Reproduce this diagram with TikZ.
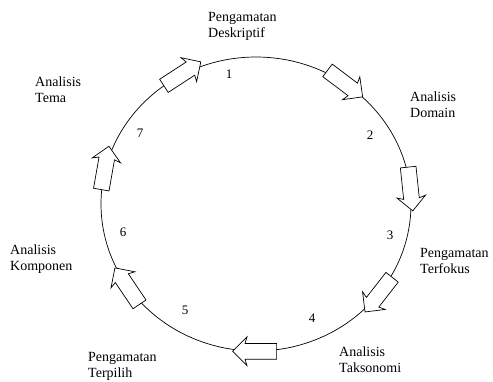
\documentclass[tikz,border=0pt]{standalone}
\usepackage{fontspec}
\setmainfont{Liberation Serif}
\usetikzlibrary{shapes.geometric, shapes.arrows, positioning, calc}

\begin{document}
\begin{tikzpicture}[x=1pt,y=1pt,
		flow/.style={single arrow,draw,fill=white,inner xsep=0pt,inner ysep=7.5pt,minimum height=44pt,single arrow head extend=6.5pt,single arrow head indent=2pt,line width=.7pt},
		lbl/.style={anchor=north west,align=left,inner sep=0pt,font=\fontsize{14}{16}\selectfont},
		num/.style={inner sep=0pt,font=\fontsize{13}{15}\selectfont}]
		\useasboundingbox (0,0) rectangle (493,381);
		\node(ring) at (256,177)[ellipse,draw,line width=.7pt,minimum width=310pt,minimum height=294pt,inner sep=0pt]{};
		
		\node(a1) at (ring.121)[flow,rotate=33]{};
		\node(a2) at (ring.55)[flow,rotate=-37]{};
		\node(a3) at (ring.7)[flow,rotate=-84]{};
		\node(a4) at (ring.-35)[flow,rotate=-128]{};
		\node(a5) at (ring.-89)[flow,rotate=180]{};
		\node(a6) at (ring.214)[flow,rotate=124]{};
		\node(a7) at (ring.168)[flow,rotate=80]{};
		
		\node(n1) at (229,307)[num]{1};
		\node(n2) at (370,246)[num]{2};
		\node(n3) at (390,146)[num]{3};
		\node(n4) at (312,63)[num]{4};
		\node(n5) at (185,71)[num]{5};
		\node(n6) at (123,149)[num]{6};
		\node(n7) at (140,248)[num]{7};
		
		\node(deskriptif) at (208,369)[lbl]{Pengamatan\\Deskriptif};
		\node(domain) at (410,289)[lbl]{Analisis\\Domain};
		\node(terfokus) at (420,133)[lbl]{Pengamatan\\Terfokus};
		\node(taksonomi) at (339,34)[lbl]{Analisis\\Taksonomi};
		\node(terpilih) at (88,29)[lbl]{Pengamatan\\Terpilih};
		\node(komponen) at (10,136)[lbl]{Analisis\\Komponen};
		\node(tema) at (35,304)[lbl]{Analisis\\Tema};
		
	\end{tikzpicture}
\end{document}
